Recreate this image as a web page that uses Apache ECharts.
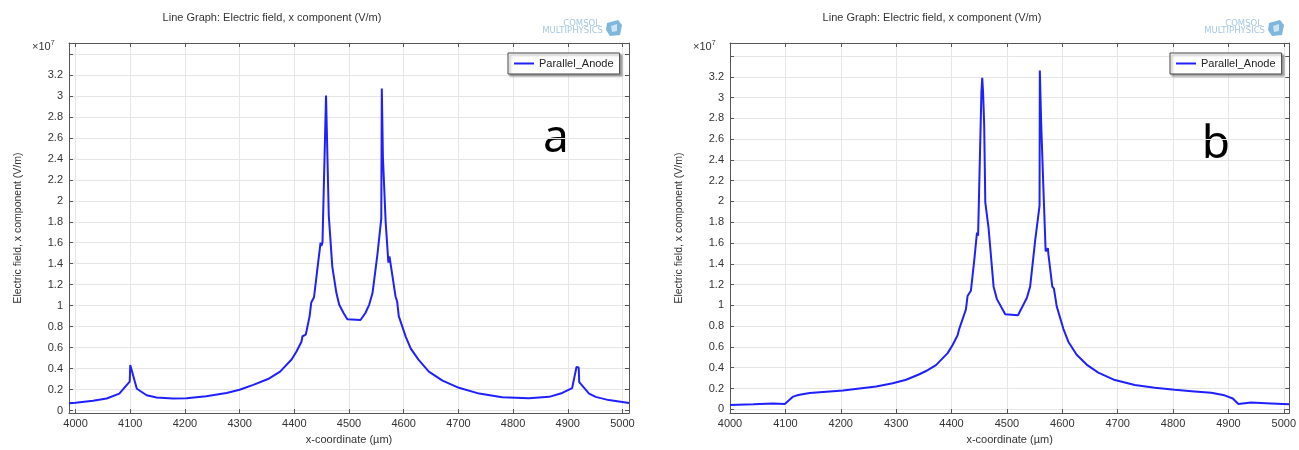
<!DOCTYPE html>
<html><head><meta charset="utf-8">
<script src="https://cdn.jsdelivr.net/npm/echarts@6/dist/echarts.min.js"></script>
<style>html,body{margin:0;padding:0;background:#fff}#c{width:1299px;height:450px}</style>
</head><body><div id="c"></div>
<script>
// ---- data ----
const xTicks = [4000,4100,4200,4300,4400,4500,4600,4700,4800,4900,5000];
const yTicks = [0,0.2,0.4,0.6,0.8,1,1.2,1.4,1.6,1.8,2,2.2,2.4,2.6,2.8,3,3.2,3.4];
const yLabels = [0,0.2,0.4,0.6,0.8,1,1.2,1.4,1.6,1.8,2,2.2,2.4,2.6,2.8,3,3.2];
const seriesName = 'Parallel_Anode';
const plotTitle = 'Line Graph: Electric field, x component (V/m)';
const yName = 'Electric field, x component (V/m)';
const xName = 'x-coordinate (\u00b5m)';

// chart a  (x in µm, E in 1e7 V/m)
const xA = [3988,4000,4032,4057,4080,4099,4100,4112,4130,4148,4178,4203,4239,4276,4300,4325,4352,4374,4395,4404,4413,4415,4421,4428,4431,4436,4444,4448,4449.5,4451.5,4458,4463,4469.5,4477,4482,4490,4497,4500,4521,4530,4537,4543,4552,4559,4560,4562,4567,4572,4574,4576,4585,4588,4591,4604,4613,4627,4646,4671,4701,4738,4780,4829,4866,4890,4908,4916,4920,4921,4939,4951,4975,5012];
const yA = [0.068,0.074,0.093,0.114,0.161,0.275,0.433,0.207,0.145,0.124,0.114,0.117,0.136,0.167,0.198,0.244,0.30,0.371,0.486,0.563,0.656,0.708,0.724,0.90,1.03,1.08,1.43,1.60,1.57,1.60,3.005,1.86,1.37,1.12,1.01,0.93,0.87,0.863,0.863,0.93,1.01,1.12,1.49,1.83,3.07,2.42,1.80,1.41,1.47,1.40,1.09,1.04,0.90,0.70,0.59,0.485,0.371,0.284,0.216,0.161,0.127,0.117,0.13,0.167,0.213,0.414,0.41,0.27,0.161,0.13,0.099,0.072];

// chart b
const xB = [4000,4042,4078,4099,4101,4113,4123,4144,4174,4204,4234,4264,4294,4318,4342,4354,4372,4393,4402,4411,4414,4417,4426,4429,4435,4441,4446,4448,4450,4454,4455.5,4457,4459,4461,4467,4476,4482,4497,4500,4520,4536,4542,4551,4559,4559.5,4562,4566,4570,4574,4575,4582,4585,4590,4602,4611,4626,4644,4665,4695,4731,4767,4803,4839,4869,4893,4908,4918,4920,4941,4977,5010];
const yB = [0.041,0.047,0.056,0.05,0.062,0.119,0.137,0.156,0.169,0.181,0.20,0.219,0.25,0.284,0.337,0.368,0.425,0.54,0.618,0.712,0.774,0.78,0.96,1.09,1.14,1.43,1.70,1.67,1.68,3.05,3.19,3.05,2.74,1.99,1.74,1.18,1.06,0.915,0.905,0.905,1.07,1.18,1.62,1.96,3.26,2.74,2.12,1.52,1.55,1.49,1.18,1.16,0.99,0.774,0.65,0.524,0.43,0.353,0.281,0.234,0.206,0.187,0.172,0.159,0.134,0.103,0.05,0.062,0.066,0.056,0.047];

// ---- chart ----
const FONT = 'Liberation Sans';
const lineColor = '#2020ff';
const frameColor = '#555';
const pair = (xs, ys) => xs.map((x, i) => [x, ys[i]]);
const plain = v => String(v);

const grids = [
  {left: 69, top: 43, width: 560, height: 380, xMin: 3988, xMax: 5012, yMin: -0.025, yMax: 3.505},
  {left: 730, top: 43, width: 561, height: 380, xMin: 4000, xMax: 5010, yMin: -0.037, yMax: 3.525}
];

const xAxes = [], yAxes = [];
grids.forEach((g, i) => {
  xAxes.push({
    gridIndex: i, type: 'value', min: g.xMin, max: g.xMax, position: 'bottom',
    name: xName, nameLocation: 'middle', nameGap: 16,
    nameTextStyle: {fontFamily: FONT, fontSize: 11, color: '#333'},
    axisLine: {show: true, onZero: false, lineStyle: {color: frameColor, width: 1}},
    axisTick: {show: true, inside: true, length: 4, customValues: xTicks, lineStyle: {color: frameColor}},
    axisLabel: {customValues: xTicks, formatter: plain, margin: 5, fontFamily: FONT, fontSize: 11, color: '#333'},
    splitLine: {show: true, lineStyle: {color: '#e6e6e6', width: 1}}
  });
  xAxes.push({
    gridIndex: i, type: 'value', min: g.xMin, max: g.xMax, position: 'top',
    axisLine: {show: true, onZero: false, lineStyle: {color: frameColor, width: 1}},
    axisTick: {show: true, inside: true, length: 4, customValues: xTicks, lineStyle: {color: frameColor}},
    axisLabel: {show: false}, splitLine: {show: false}
  });
  yAxes.push({
    gridIndex: i, type: 'value', min: g.yMin, max: g.yMax, position: 'left',
    name: yName, nameLocation: 'middle', nameGap: 45, nameRotate: 90,
    nameTextStyle: {fontFamily: FONT, fontSize: 10.5, color: '#333'},
    axisLine: {show: true, onZero: false, lineStyle: {color: frameColor, width: 1}},
    axisTick: {show: true, inside: true, length: 4, customValues: yTicks, lineStyle: {color: frameColor}},
    axisLabel: {customValues: yLabels, formatter: plain, margin: 6, fontFamily: FONT, fontSize: 11, color: '#333'},
    splitLine: {show: true, lineStyle: {color: '#e6e6e6', width: 1}}
  });
  yAxes.push({
    gridIndex: i, type: 'value', min: g.yMin, max: g.yMax, position: 'right',
    axisLine: {show: true, onZero: false, lineStyle: {color: frameColor, width: 1}},
    axisTick: {show: true, inside: true, length: 4, customValues: yTicks, lineStyle: {color: frameColor}},
    axisLabel: {show: false}, splitLine: {show: false}
  });
});

const legendBase = (left) => ({
  left: left, top: 53, orient: 'horizontal', data: [seriesName],
  icon: 'rect', itemWidth: 20, itemHeight: 2, itemGap: 5,
  padding: [5, 6, 5, 6],
  backgroundColor: '#fff', borderColor: '#444', borderWidth: 1,
  shadowColor: 'rgba(0,0,0,0.35)', shadowBlur: 2, shadowOffsetX: 2, shadowOffsetY: 2,
  textStyle: {fontFamily: FONT, fontSize: 11, color: '#222'}, selectedMode: false
});

function logo(rightX) {
  const c = '#a6c6e0';
  return [
    {type: 'text', x: rightX - 22, y: 24, style: {text: 'COMSOL', fontFamily: 'DejaVu Sans', fontSize: 8.5, fill: c, align: 'right', verticalAlign: 'middle'}},
    {type: 'text', x: rightX - 19, y: 31, style: {text: 'MULTIPHYSICS', fontFamily: 'DejaVu Sans', fontSize: 8.5, fill: c, align: 'right', verticalAlign: 'middle'}},
    {type: 'polygon', shape: {points: [[rightX - 15, 23], [rightX - 4, 20], [rightX, 25], [rightX - 2, 35], [rightX - 12, 36], [rightX - 16, 30]]}, style: {fill: '#7fb6dc'}},
    {type: 'polygon', shape: {points: [[rightX - 11, 26], [rightX - 5, 24], [rightX - 5, 31], [rightX - 10, 32]]}, style: {fill: '#cfe4f2'}}
  ];
}

const graphics = [
  {type: 'text', x: 272, y: 18, style: {text: plotTitle, fontFamily: FONT, fontSize: 11, fill: '#333', align: 'center', verticalAlign: 'middle'}},
  {type: 'text', x: 932, y: 18, style: {text: plotTitle, fontFamily: FONT, fontSize: 11, fill: '#333', align: 'center', verticalAlign: 'middle'}},
  {type: 'text', x: 32, y: 47, style: {text: '{a|\u00d710}{b|7}', fontFamily: FONT, verticalAlign: 'middle',
     rich: {a: {fontSize: 11, fill: '#333', fontFamily: FONT}, b: {fontSize: 7, fill: '#333', fontFamily: FONT, verticalAlign: 'top', padding: [0,0,8,0]}}}},
  {type: 'text', x: 693, y: 47, style: {text: '{a|\u00d710}{b|7}', fontFamily: FONT, verticalAlign: 'middle',
     rich: {a: {fontSize: 11, fill: '#333', fontFamily: FONT}, b: {fontSize: 7, fill: '#333', fontFamily: FONT, verticalAlign: 'top', padding: [0,0,8,0]}}}},
  {type: 'text', x: 556, y: 139, style: {text: 'a', fontFamily: 'Noto Sans', fontSize: 46, fill: '#000', align: 'center', verticalAlign: 'middle'}},
  {type: 'text', x: 1216, y: 145, style: {text: 'b', fontFamily: 'Noto Sans', fontSize: 46, fill: '#000', align: 'center', verticalAlign: 'middle'}}
].concat(logo(622), logo(1284));

const option = {
  animation: false,
  backgroundColor: '#fff',
  grid: grids.map(g => ({left: g.left, top: g.top, width: g.width, height: g.height, containLabel: false})),
  xAxis: xAxes,
  yAxis: yAxes,
  legend: [legendBase(508), legendBase(1170)],
  graphic: graphics,
  series: [
    {name: seriesName, type: 'line', xAxisIndex: 0, yAxisIndex: 0, data: pair(xA, yA), showSymbol: false, clip: true,
     lineStyle: {color: lineColor, width: 2}, itemStyle: {color: lineColor}},
    {name: seriesName, type: 'line', xAxisIndex: 2, yAxisIndex: 2, data: pair(xB, yB), showSymbol: false, clip: true,
     lineStyle: {color: lineColor, width: 2}, itemStyle: {color: lineColor}}
  ]
};
const chart = echarts.init(document.getElementById('c'), null, {renderer: 'canvas'});
chart.setOption(option);
</script>
</body></html>
